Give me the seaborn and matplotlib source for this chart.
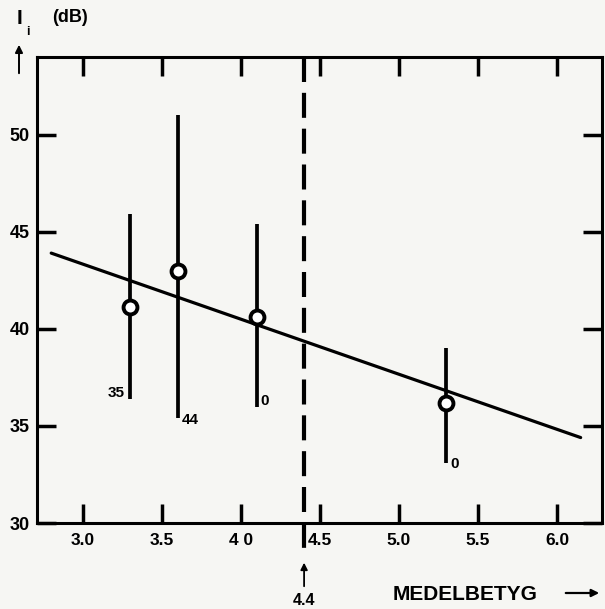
import matplotlib
matplotlib.use("Agg")
import matplotlib.pyplot as plt
import seaborn as sns
import pandas as pd

# ---- data ----
medelbetyg = [3.3, 3.6, 4.1, 5.3]
level_db = [41.1, 43.0, 40.6, 36.2]
err_low = [36.4, 35.4, 36.0, 33.1]
err_high = [45.9, 51.0, 45.4, 39.0]
point_labels = ["35", "44", "0", "0"]
line_x = [2.80, 6.15]
line_y = [43.9, 34.4]
x_ticks = [3.0, 3.5, 4.0, 4.5, 5.0, 5.5, 6.0]
x_tick_labels = ["3.0", "3.5", "4 0", "4.5", "5.0", "5.5", "6.0"]
y_ticks = [30, 35, 40, 45, 50]
y_tick_labels = ["30", "35", "40", "45", "50"]
threshold = 4.4

sns.set_theme(style="white")
plt.rcParams["font.family"] = ["Liberation Sans", "DejaVu Sans"]
plt.rcParams["font.weight"] = "bold"
plt.rcParams["text.color"] = "black"
plt.rcParams["xtick.color"] = "black"
plt.rcParams["ytick.color"] = "black"

bg = "#f6f6f3"
fig = plt.figure(figsize=(6.05, 6.09), dpi=100, facecolor=bg)
ax = fig.add_axes([37 / 605, 1 - 523 / 609, (602 - 37) / 605, (523 - 57) / 609])
ax.set_facecolor(bg)

ax.set_xlim(2.71, 6.285)
ax.set_ylim(30, 54)

df_pts = pd.DataFrame({"x": medelbetyg, "y": level_db})
df_line = pd.DataFrame({"x": line_x, "y": line_y})

# regression line
sns.lineplot(data=df_line, x="x", y="y", ax=ax, color="black", lw=2.3, zorder=2)

# error bars
ax.vlines(medelbetyg, err_low, err_high, colors="black", lw=2.7, zorder=3)

# points
sns.scatterplot(data=df_pts, x="x", y="y", ax=ax, marker="o", s=100,
                facecolor="white", edgecolor="black", linewidth=2.8, zorder=4)

# point annotations
offsets = [(-4, 4, "right"), (3, -1, "left"), (3, 4, "left"), (3, -1, "left")]
for xv, lo, lab, (dx, dy, ha) in zip(medelbetyg, err_low, point_labels, offsets):
    ax.annotate(lab, (xv, lo), xytext=(dx, dy), textcoords="offset points",
                ha=ha, va="center", fontsize=11, fontweight="bold", color="black")

# dashed threshold line
ax.plot([threshold, threshold], [54, 28.5], color="black", lw=3,
        dashes=(6, 2.6), clip_on=False, zorder=5)
ax.annotate("", xy=(threshold, 28.1), xytext=(threshold, 26.6),
            xycoords="data", textcoords="data", annotation_clip=False,
            arrowprops=dict(arrowstyle="-|>", color="black", lw=1.3,
                            mutation_scale=10))
ax.text(threshold, 26.0, "4.4", ha="center", va="center", fontsize=11.5,
        fontweight="bold", color="black", clip_on=False)

# axes styling
for s in ax.spines.values():
    s.set_visible(True)
    s.set_color("black")
    s.set_linewidth(2.2)

ax.set_xticks(x_ticks)
ax.set_xticklabels(x_tick_labels, fontsize=12.5, fontweight="bold")
ax.set_yticks(y_ticks)
ax.set_yticklabels(y_tick_labels, fontsize=13, fontweight="bold")
ax.tick_params(axis="both", which="both", direction="in", length=13.5, width=2.5,
               color="black", bottom=True, left=True, top=True, right=True,
               labelcolor="black")
ax.tick_params(axis="x", pad=7)
ax.tick_params(axis="y", pad=5)
ax.set_xlabel("")
ax.set_ylabel("")

# axis titles
fig.text(19 / 605, 1 - 18 / 609, "I", fontsize=15, fontweight="bold",
         ha="center", va="center", color="black")
fig.text(28 / 605, 1 - 32 / 609, "i", fontsize=9, fontweight="bold",
         ha="center", va="center", color="black")
fig.text(52 / 605, 1 - 18 / 609, "(dB)", fontsize=13, fontweight="bold",
         ha="left", va="center", color="black")
fig.add_artist(matplotlib.patches.FancyArrowPatch(
    (19 / 605, 1 - 76 / 609), (19 / 605, 1 - 42 / 609),
    transform=fig.transFigure, arrowstyle="-|>", mutation_scale=11,
    color="black", lw=1.4))

fig.text(393 / 605, 1 - 594 / 609, "MEDELBETYG", fontsize=15, fontweight="bold",
         ha="left", va="center", color="black")
fig.add_artist(matplotlib.patches.FancyArrowPatch(
    (563 / 605, 1 - 593 / 609), (602 / 605, 1 - 593 / 609),
    transform=fig.transFigure, arrowstyle="-|>", mutation_scale=11,
    color="black", lw=1.6))

fig.savefig("out.png", dpi=100, facecolor=bg)
